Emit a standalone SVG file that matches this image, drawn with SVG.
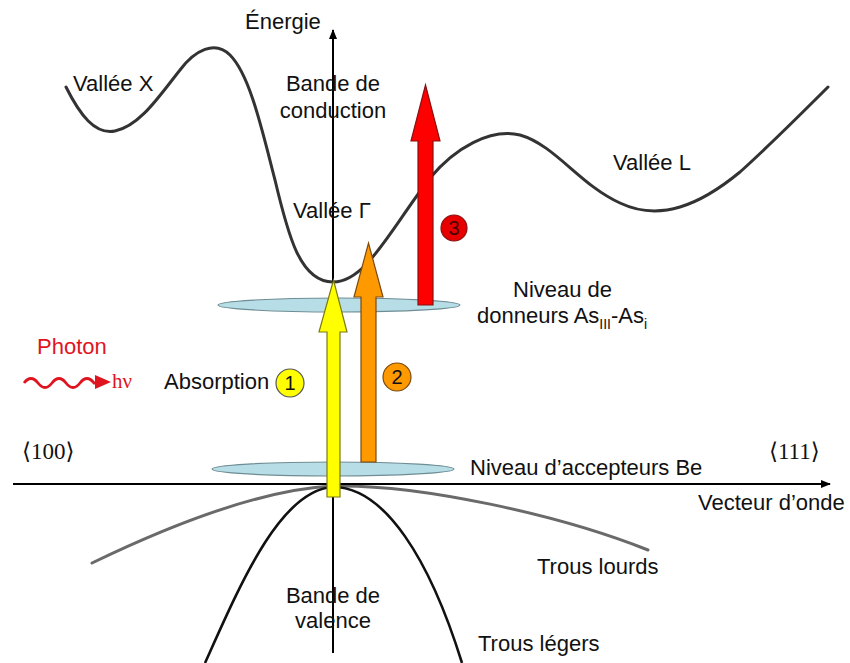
<svg xmlns="http://www.w3.org/2000/svg" width="850" height="663" viewBox="0 0 850 663">
<defs>
<marker id="ah" viewBox="0 0 10 10" refX="9" refY="5" markerWidth="5" markerHeight="5" orient="auto" markerUnits="strokeWidth"><path d="M0,1 L10,5 L0,9 Z" fill="#000"/></marker>
<style>
text{font-family:"Liberation Sans",Arial,sans-serif;font-size:22px;fill:#111}
.ser{font-family:"Liberation Serif","DejaVu Serif",serif;font-size:21px}
.dir{font-family:"Liberation Serif","DejaVu Serif",serif;font-size:23px}
.red{fill:#e0141e}
.band{fill:none;stroke:#333;stroke-width:3;stroke-linecap:round}
.hh{fill:none;stroke:#6a6a6a;stroke-width:3;stroke-linecap:round}
.lh{fill:none;stroke:#111;stroke-width:2.6}
.lvl{fill:#b7dde6;stroke:#6f8d94;stroke-width:1.2}
.axis{stroke:#000;stroke-width:2;fill:none}
.num{font-size:20px;text-anchor:middle}
.mid{text-anchor:middle}
</style>
</defs>
<rect width="850" height="663" fill="#fff"/>

<g id="bands">
<path class="band" d="M66,87 C80,115 95,135 115,131 C140,126 160,95 180,70 C195,50 215,40 230,55 C250,75 262,130 275,180 C288,235 300,282 333,282 C366,282 390,230 430,178 C455,148 490,128 520,135 C555,145 580,185 620,203 C660,222 700,205 740,172 C770,145 800,115 828,87"/>
<path class="hh" d="M92,563 C150,535 250,490 333,486 C420,484 560,515 648,550"/>
<path class="lh" d="M205,663 C240,585 280,490 333,487 C385,487 430,560 462,663"/>
</g>

<g id="axes">
<line class="axis" x1="333" y1="653" x2="333" y2="30" marker-end="url(#ah)"/>
<line class="axis" x1="13" y1="484" x2="830" y2="484" marker-end="url(#ah)"/>
</g>

<g id="levels">
<ellipse id="donor-level" class="lvl" cx="339" cy="305" rx="121" ry="7"/>
<ellipse id="acceptor-level" class="lvl" cx="333" cy="469" rx="121" ry="7"/>
</g>

<g id="arrows">
<polygon id="arrow1" points="327,497 340,497 340,332 347,332 333.5,280 319,332 327,332" fill="#ffff00" stroke="#7a7a10" stroke-width="1.2"/>
<polygon id="arrow2" points="361,462 376,462 376,297 383,297 368.5,243 354,297 361,297" fill="#ff9900" stroke="#7a4a10" stroke-width="1.2"/>
<polygon id="arrow3" points="418,305 433,305 433,141 440,141 425.5,85 411,141 418,141" fill="#ff0000" stroke="#8a1010" stroke-width="1.2"/>
</g>

<g id="markers">
<g id="c1"><circle cx="290" cy="383" r="14" fill="#ffff00" stroke="#555" stroke-width="1.2"/><text class="num" x="290" y="390">1</text></g>
<g id="c2"><circle cx="397" cy="377" r="14" fill="#ff9900" stroke="#7a4a10" stroke-width="1.2"/><text class="num" x="397" y="384">2</text></g>
<g id="c3"><circle cx="454" cy="228" r="13" fill="#e80000" stroke="#8a1010" stroke-width="1.2"/><text class="num" x="454" y="235" style="fill:#400">3</text></g>
</g>

<g id="photon">
<text class="red" x="37" y="354">Photon</text>
<path d="M24,383 q7,-9 14,0 t14,0 t14,0 t14,0 t14,0 l4,0" fill="none" stroke="#e0141e" stroke-width="2.8"/>
<polygon points="95,375 111,382 95,389" fill="#e0141e"/>
<text class="ser red" x="112" y="388">hν</text>
</g>

<g id="labels">
<text x="245" y="29">Énergie</text>
<text x="73" y="91">Vallée X</text>
<text class="mid" x="333" y="91">Bande de</text>
<text class="mid" x="333" y="118">conduction</text>
<text x="293" y="218">Vallée Γ</text>
<text x="613" y="170">Vallée L</text>
<text x="513" y="297">Niveau de</text>
<text x="477" y="323">donneurs As<tspan font-size="14" dy="6">III</tspan><tspan dy="-6">-As</tspan><tspan font-size="14" dy="6">i</tspan></text>
<text x="164" y="389">Absorption</text>
<text class="dir" x="22" y="459">⟨100⟩</text>
<text class="dir" x="769" y="459">⟨111⟩</text>
<text x="470" y="475">Niveau d’accepteurs Be</text>
<text x="698" y="510">Vecteur d’onde</text>
<text x="537" y="574">Trous lourds</text>
<text x="478" y="651">Trous légers</text>
<text class="mid" x="333" y="603">Bande de</text>
<text class="mid" x="333" y="628">valence</text>
</g>
</svg>
